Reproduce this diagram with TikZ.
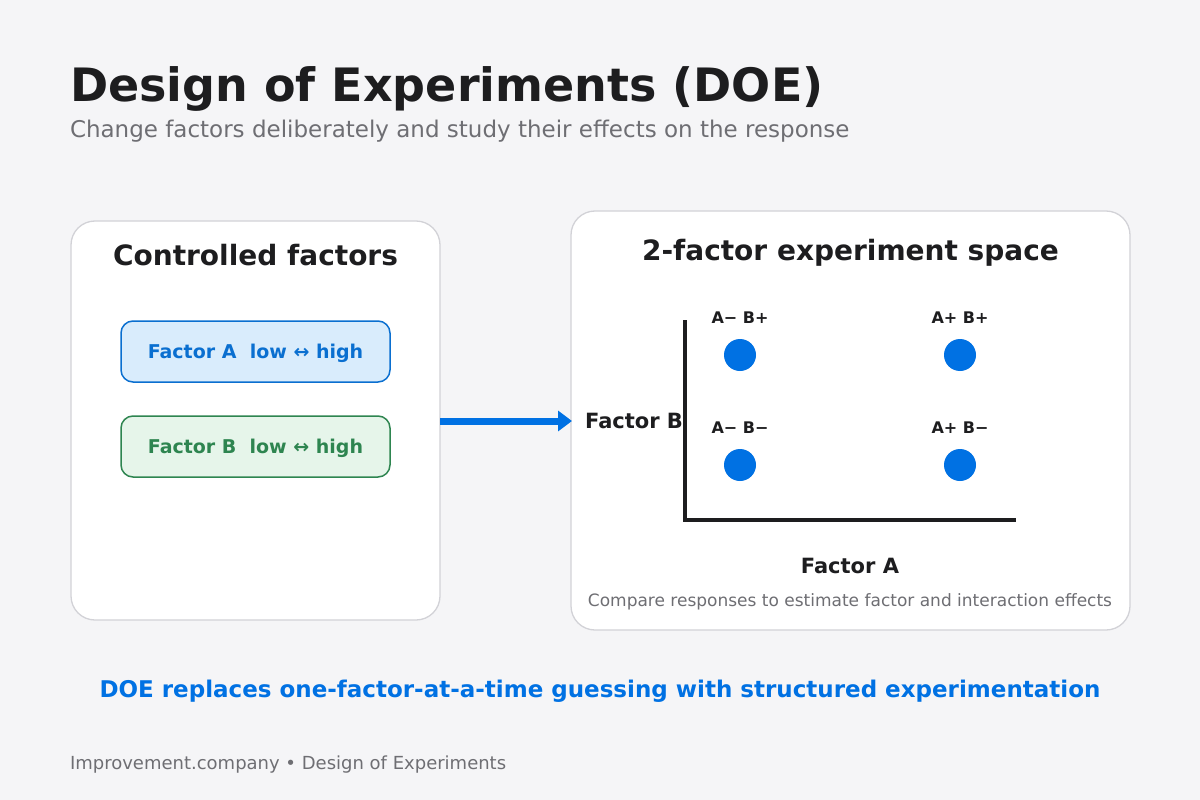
\documentclass[tikz,border=0pt]{standalone}
\usepackage{fontspec}
\setmainfont{DejaVu Sans}
\usetikzlibrary{arrows.meta}
\definecolor{bg}{HTML}{F5F5F7}
\definecolor{ink}{HTML}{1D1D1F}
\definecolor{muted}{HTML}{6E6E73}
\definecolor{panelline}{HTML}{D2D2D7}
\definecolor{accent}{HTML}{0071E3}
\definecolor{afill}{HTML}{D9ECFC}
\definecolor{aline}{HTML}{0A6FD0}
\definecolor{bfill}{HTML}{E6F5EA}
\definecolor{bline}{HTML}{2E8550}
\newcommand{\fs}[1]{\fontsize{#1}{#1}\selectfont}
\tikzset{
  txt/.style={inner sep=0pt, outer sep=0pt},
  panel/.style={draw=panelline, line width=1.3pt, fill=white, rounded corners=24pt},
  factorbox/.style={line width=1.5pt, rounded corners=12pt, minimum width=269pt, minimum height=61pt, font=\bfseries\fs{19}, inner sep=0pt, text height=14pt, text depth=0pt},
  pt/.style={circle, fill=accent, minimum size=32pt, inner sep=0pt},
  ptlabel/.style={txt, font=\bfseries\fs{16}, text=ink, anchor=base},
  axis/.style={ink, line width=4pt}
}
\begin{document}
\begin{tikzpicture}[x=1pt,y=-1pt]
\fill[bg] (0,0) rectangle (1200,800);
\useasboundingbox (0,0) rectangle (1200,800);
% title
\node[txt, anchor=base west, font=\bfseries\fs{46}, text=ink] (title) at (70,101) {Design of Experiments (DOE)};
\node[txt, anchor=base west, font=\fs{23}, text=muted] (subtitle) at (70,137) {Change factors deliberately and study their effects on the response};
% left panel
\draw[panel] (71,221) rectangle (440,620);
\coordinate (lpE) at (440,421);
\node[txt, anchor=base, font=\bfseries\fs{28}, text=ink] (lptitle) at (255.5,265) {Controlled factors};
\node[factorbox, draw=aline, fill=afill, text=aline] (fa) at (255.5,351.5) {Factor A\ \ low ↔ high};
\node[factorbox, draw=bline, fill=bfill, text=bline] (fb) at (255.5,446.5) {Factor B\ \ low ↔ high};
% right panel
\draw[panel] (571,211) rectangle (1130,630);
\coordinate (rpW) at (572,421);
\node[txt, anchor=base, font=\bfseries\fs{28}, text=ink] (rptitle) at (850.5,260) {2-factor experiment space};
% arrow
\draw[accent, line width=7pt, -{Triangle[length=14pt,width=20pt]}] (lpE) -- (rpW);
% axes
\coordinate (origin) at (685,520);
\coordinate (ytop) at (685,320);
\coordinate (xend) at (1016,520);
\draw[axis] (ytop) -- (origin) -- (xend);
\node[txt, anchor=base east, font=\bfseries\fs{21}, text=ink] (fbl) at (683,428) {Factor B};
\node[txt, anchor=base, font=\bfseries\fs{21}, text=ink] (fal) at (850,573) {Factor A};
% points
\node[pt] (p1) at (740,355) {};
\node[pt] (p2) at (960,355) {};
\node[pt] (p3) at (740,465) {};
\node[pt] (p4) at (960,465) {};
\node[ptlabel] (l1) at (740,323) {A− B+};
\node[ptlabel] (l2) at (960,323) {A+ B+};
\node[ptlabel] (l3) at (740,433) {A− B−};
\node[ptlabel] (l4) at (960,433) {A+ B−};
\node[txt, anchor=base, font=\fs{17}, text=muted] (cmp) at (850,606) {Compare responses to estimate factor and interaction effects};
% bottom
\node[txt, anchor=base, font=\bfseries\fs{23}, text=accent] (msg) at (600,697) {DOE replaces one-factor-at-a-time guessing with structured experimentation};
\node[txt, anchor=base west, font=\fs{18}, text=muted] (foot) at (70,769) {Improvement.company • Design of Experiments};
\end{tikzpicture}
\end{document}
